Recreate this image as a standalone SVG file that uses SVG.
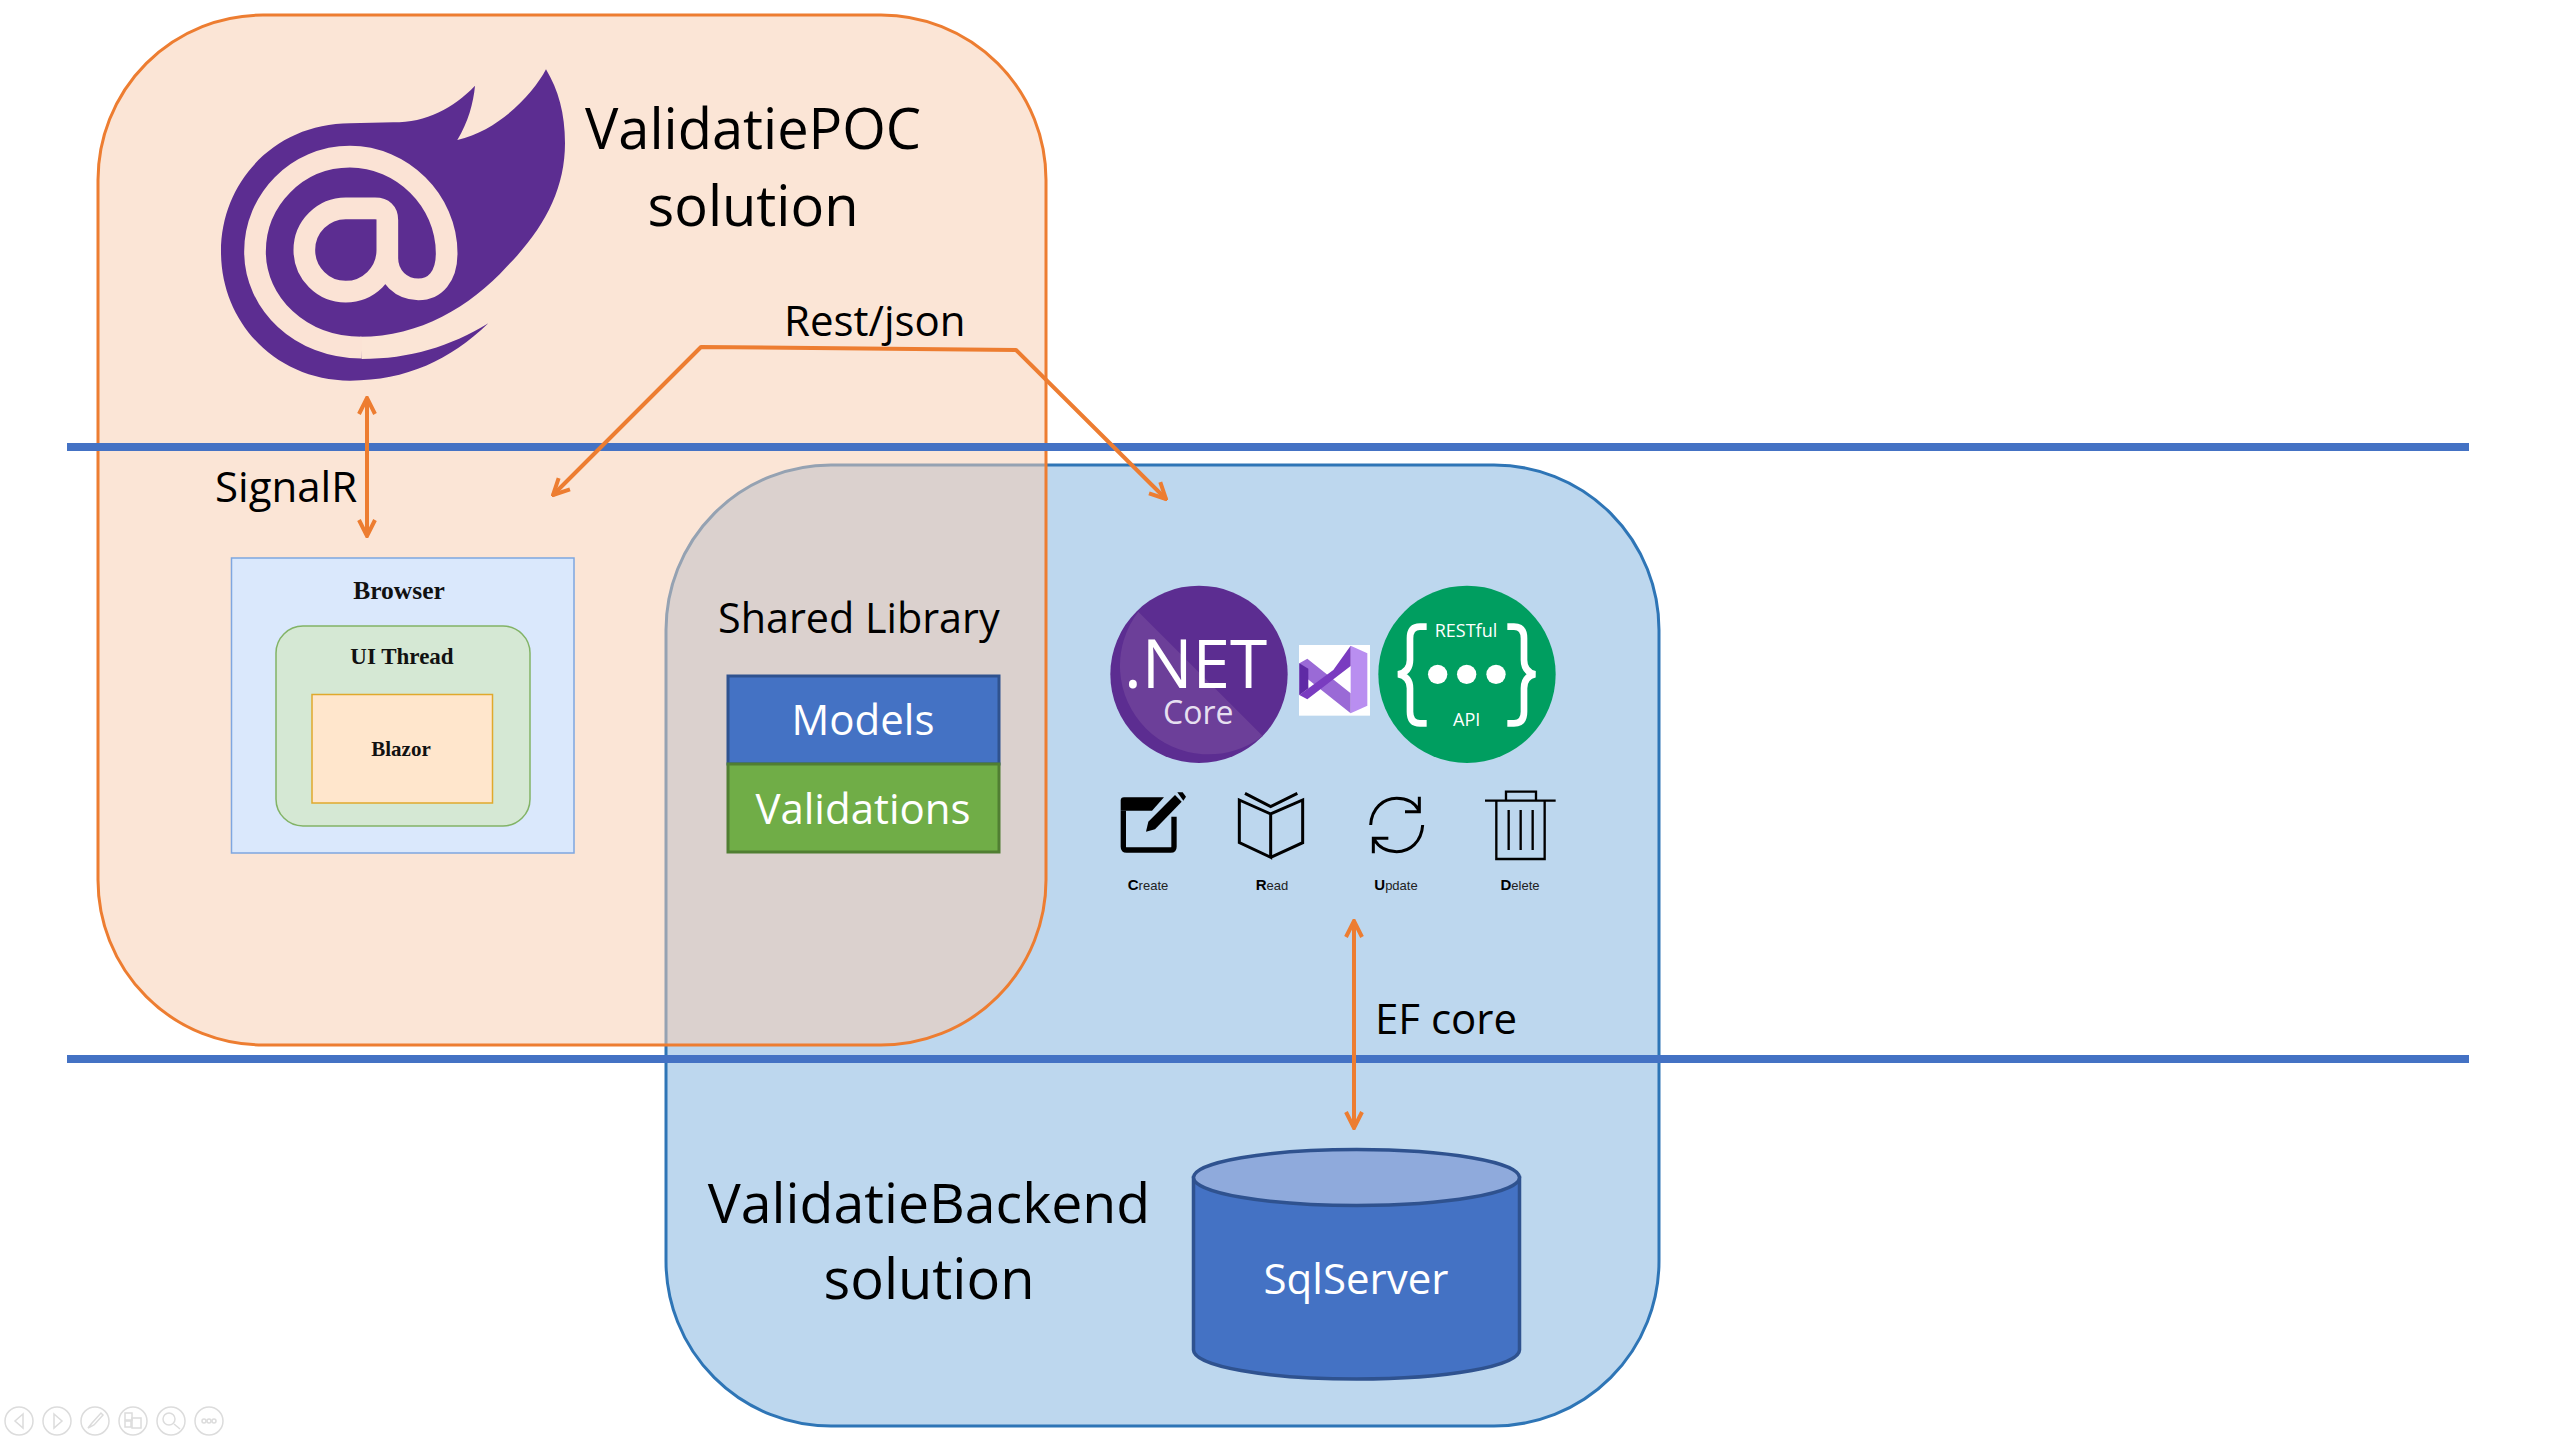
<svg xmlns="http://www.w3.org/2000/svg" width="2560" height="1440" viewBox="0 0 2560 1440">
<style>
text{font-family:"Open Sans","Noto Sans",sans-serif;fill:#000}
.h{font-size:56px;text-anchor:middle}
.l{font-size:42px}
.w{fill:#fff;text-anchor:middle;font-size:42px}
.s{font-family:"Liberation Serif",serif;font-weight:bold;text-anchor:middle;fill:#111}
.c{fill:none;stroke:#ed7d31;stroke-width:4;stroke-linejoin:round}
.i{fill:none;stroke:#000;stroke-width:7}
.crud{font-family:"Liberation Sans",sans-serif;font-size:13px;text-anchor:middle;fill:#222}
.crud tspan{font-weight:bold;font-size:15px;fill:#000}
.n{fill:none;stroke:#dcdcdc;stroke-width:1.5}
</style>
<defs>
<marker id="a" viewBox="0 0 20 20" refX="18" refY="10" markerWidth="20" markerHeight="20" markerUnits="userSpaceOnUse" orient="auto-start-reverse"><path d="M2 2L18 10L2 18" fill="none" stroke="#ed7d31" stroke-width="4"/></marker>
</defs>
<rect width="2560" height="1440" fill="#fff"/>
<g id="backend-solution"><rect x="666" y="465" width="993" height="961" rx="165" fill="#bdd7ee" stroke="#2e75b6" stroke-width="3"/></g>
<g id="poc-solution"><rect x="98" y="15" width="948" height="1030" rx="165" fill="rgb(247,204,175)" fill-opacity=".515" stroke="#ed7d31" stroke-width="3"/></g>
<g id="lines"><rect x="67" y="443" width="2402" height="8" fill="#4472c4"/><rect x="67" y="1055" width="2402" height="8" fill="#4472c4"/></g>
<g id="blazor-logo" transform="translate(180 40) scale(.33333)">
<path fill="#5c2d91" d="M885 137C820 205 740 247 640 247L510 250C290 250 123 420 123 635C123 850 290 1022 510 1022C680 1022 810 960 925 850C810 920 690 957 545 957L540 890C720 890 870 800 980 680C1090 570 1155 450 1155 310C1155 220 1135 150 1098 88C1060 160 960 270 832 300C865 245 880 190 885 137Z"/>
<path fill="none" stroke="#fbe3d5" stroke-width="65" d="M622 630C622 700 565 755 497 755C430 755 373 700 373 630C373 560 430 505 497 505L585 505Q622 505 622 540L622 655C622 710 665 748 715 748C765 748 800 710 800 640C800 480 665 350 510 350C350 350 225 480 225 635C225 790 360 923 545 923"/>
</g>
<g id="title-poc"><text class="h" x="753" y="149">ValidatiePOC</text><text class="h" x="753" y="226">solution</text></g>
<g id="label-rest"><text class="l" x="784" y="336">Rest/json</text></g>
<g id="label-signalr"><text class="l" x="215" y="502">SignalR</text></g>
<g id="browser">
<rect x="231.500" y="558" width="342.500" height="295" fill="#dae8fc" stroke="#7ea6e0" stroke-width="1.500"/>
<text class="s" x="399" y="599" font-size="25.500">Browser</text>
<rect x="276" y="626" width="254" height="200" rx="27" fill="#d5e8d4" stroke="#82b366" stroke-width="1.500"/>
<text class="s" x="402" y="664" font-size="23">UI Thread</text>
<rect x="312" y="694.500" width="180.500" height="108.500" fill="#ffe6cc" stroke="#e0a92c" stroke-width="1.500"/>
<text class="s" x="401" y="756" font-size="21">Blazor</text>
</g>
<g id="shared-library">
<text class="l" x="718" y="633" style="font-size:41.300px">Shared Library</text>
<rect x="728" y="676" width="271" height="88" fill="#4472c4" stroke="#2f528f" stroke-width="3"/>
<text class="w" x="863" y="735">Models</text>
<rect x="728" y="764" width="271" height="88" fill="#70ad47" stroke="#507e32" stroke-width="3"/>
<text class="w" x="863" y="824">Validations</text>
</g>
<g id="dotnet-core" transform="translate(1080 560) scale(.33333)">
<circle cx="357" cy="343" r="266" fill="#5c2d91"/>
<path d="M175 155L548 528A266 266 0 0 1 175 155Z" fill="#6c3f99"/>
<text x="132" y="385" font-size="205" style="fill:#fff" textLength="430" lengthAdjust="spacingAndGlyphs">.NET</text>
<text x="355" y="492" font-size="96" style="fill:#e6dff0;text-anchor:middle">Core</text>
</g>
<g id="visual-studio" transform="translate(1080 560) scale(.33333)">
<rect x="657" y="255" width="213" height="212" fill="#fff"/>
<path d="M812 257L862 280V437L812 460Z" fill="#b98ef0"/>
<path d="M658 310L682 296L812 400V460L680 355L685 385L658 405Z" fill="#9a6ad6"/>
<path d="M812 257V318L682 418L658 405L760 330Z" fill="#7a3cc0"/>
<path d="M658 310L685 326V385L658 405Z" fill="#5f2aa5"/>
</g>
<g id="restful-api" transform="translate(1080 560) scale(.33333)">
<circle cx="1161" cy="343" r="266" fill="#009e60"/>
<path d="M1040 200H1020Q990 200 990 235V300Q990 335 955 343Q990 350 990 385V455Q990 490 1020 490H1040M1282 200H1302Q1332 200 1332 235V300Q1332 335 1365 343Q1332 350 1332 385V455Q1332 490 1302 490H1282" fill="none" stroke="#fff" stroke-width="20"/>
<circle cx="1073" cy="343" r="29" fill="#fff"/><circle cx="1160" cy="343" r="29" fill="#fff"/><circle cx="1248" cy="343" r="29" fill="#fff"/>
<text x="1158" y="230" font-size="54" style="fill:#fff;text-anchor:middle">RESTful</text>
<text x="1160" y="498" font-size="54" style="fill:#fff;text-anchor:middle">API</text>
</g>
<g id="crud-icons" transform="translate(1080 560) scale(.33333)">
<path d="M130 752V860Q130 870 140 870H272Q282 870 282 860V770" fill="none" stroke="#000" stroke-width="16"/>
<path d="M122 722Q122 712 132 712H252L216 752H122Z"/>
<path d="M198 815L205 785L285 705L305 725L225 808Z"/><path d="M292 697L308 697L318 710L310 722Z"/>
<path class="i" style="stroke-width:9" d="M478 720L572 762V892L478 848ZM572 762L668 720V848L572 892M495 700L572 740L652 700"/>
<path class="i" style="stroke-width:9" d="M872 795C875 745 910 715 950 715C985 715 1005 730 1018 752M1018 710V755H975M1028 795C1025 845 990 875 950 875C915 875 895 860 882 838M880 880V835H925"/>
<path class="i" style="stroke-width:7" d="M1215 722H1427M1278 722V695H1368V722M1249 722V897H1394V722M1286 750V870M1322 750V870M1358 750V870"/>
</g>
<text class="crud" x="1148" y="890"><tspan>C</tspan>reate</text>
<text class="crud" x="1272" y="890"><tspan>R</tspan>ead</text>
<text class="crud" x="1396" y="890"><tspan>U</tspan>pdate</text>
<text class="crud" x="1520" y="890"><tspan>D</tspan>elete</text>
<g id="label-ef"><text class="l" x="1375" y="1034">EF core</text></g>
<g id="sqlserver">
<path d="M1193.500 1177.500V1350C1193.500 1366 1266 1379 1356.500 1379S1519.500 1366 1519.500 1350V1177.500Z" fill="#4472c4" stroke="#2f528f" stroke-width="3.500"/>
<ellipse cx="1356.500" cy="1177.500" rx="163" ry="28" fill="#8faadc" stroke="#2f528f" stroke-width="3.500"/>
<text class="w" x="1356" y="1294">SqlServer</text>
</g>
<g id="title-backend"><text class="h" x="929" y="1223" style="font-size:55.400px">ValidatieBackend</text><text class="h" x="929" y="1299">solution</text></g>
<g id="connectors">
<path class="c" d="M367 398V536" marker-start="url(#a)" marker-end="url(#a)"/>
<path class="c" d="M553 495L701 347L1016 350L1166 499" marker-start="url(#a)" marker-end="url(#a)"/>
<path class="c" d="M1354 921V1128" marker-start="url(#a)" marker-end="url(#a)"/>
</g>
<g id="slide-controls">
<circle class="n" cx="19" cy="1421" r="14"/><path class="n" d="M23 1414L15 1421L23 1428Z"/>
<circle class="n" cx="57" cy="1421" r="14"/><path class="n" d="M54 1414L62 1421L54 1428Z"/>
<circle class="n" cx="95" cy="1421" r="14"/><path class="n" d="M88 1428L92 1423L101 1413L103 1415L94 1425Z"/>
<circle class="n" cx="133" cy="1421" r="14"/><rect class="n" x="125" y="1413" width="7" height="7"/><rect class="n" x="132" y="1418" width="9" height="10"/><rect class="n" x="125" y="1421" width="6" height="6"/>
<circle class="n" cx="171" cy="1421" r="14"/><circle class="n" cx="169" cy="1419" r="6"/><path class="n" d="M174 1424L180 1429"/>
<circle class="n" cx="209" cy="1421" r="14"/><circle class="n" cx="204" cy="1421" r="2"/><circle class="n" cx="209" cy="1421" r="2"/><circle class="n" cx="214" cy="1421" r="2"/>
</g>
</svg>
